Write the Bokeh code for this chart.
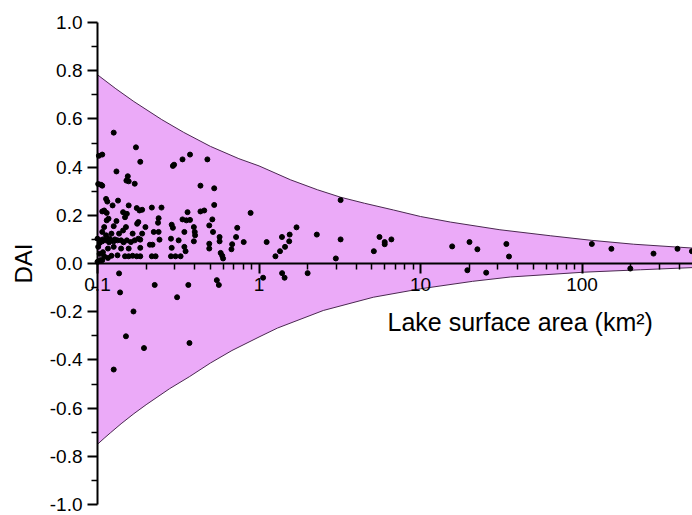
from bokeh.plotting import figure
from bokeh.models import FixedTicker, PrintfTickFormatter, CustomJSTickFormatter, Label, ColumnDataSource
from bokeh.embed import file_html
from bokeh.resources import INLINE

# Lake surface area (km2) and DAI values
area = [
    0.126, 0.173, 0.184, 0.102, 0.107, 0.131, 0.154, 0.151, 0.156, 0.170,
    0.293, 0.298, 0.336, 0.374, 0.479, 0.434, 0.528, 0.101, 0.105, 0.107,
    3.2, 0.887, 0.528, 0.434, 0.458, 0.361, 0.217, 0.249, 0.113, 0.115,
    0.134, 0.107, 0.110, 0.114, 0.156, 0.124, 0.175, 0.182, 0.189, 0.144,
    0.152, 0.117, 0.114, 0.131, 0.148, 0.179, 0.239, 0.336, 0.355, 0.374,
    0.514, 0.237, 0.288, 0.176, 0.110, 0.126, 0.150, 0.198, 0.144, 0.239,
    0.293, 0.395, 0.400, 0.492, 0.733, 1.707, 0.107, 0.113, 0.122, 0.136,
    0.165, 0.189, 0.223, 0.345, 0.519, 0.570, 0.402, 1.387, 1.548, 2.28,
    5.57, 6.0, 6.0, 6.6, 5.14,
    0.100, 0.104, 0.107, 0.113, 0.119, 0.126, 0.133, 0.140, 0.152, 0.161,
    0.179, 0.184, 0.219, 0.242, 0.285, 0.318, 0.395, 0.492, 0.570, 0.682,
    0.721, 0.804, 1.115, 1.538, 3.2, 15.7, 20.1, 34.0, 115.0,
    0.101, 0.116, 0.126, 0.140, 0.156, 0.184, 0.211, 0.288, 0.345, 0.492,
    0.579, 0.675, 1.349, 1.449, 22.5, 152.0, 390.0, 479.0,
    0.104, 0.110, 0.116, 0.122, 0.133, 0.148, 0.156, 0.165, 0.175, 0.184,
    0.217, 0.229, 0.285, 0.304, 0.327, 0.351, 0.592, 0.599, 1.264, 2.99,
    35.3, 277.0, 0.107, 0.100,
    0.103, 0.108, 0.118, 0.128, 0.145, 0.170, 0.103, 0.108,
    0.136, 0.138, 0.226, 0.311, 0.365, 0.548, 0.564, 1.06, 1.39, 1.44,
    2.0, 0.167, 0.150, 0.194, 0.371, 0.126, 19.5, 25.5, 199.0,
]
dai = [
    0.543, 0.482, 0.422, 0.447, 0.452, 0.382, 0.362, 0.344, 0.341, 0.331,
    0.405, 0.410, 0.432, 0.452, 0.432, 0.323, 0.312, 0.330, 0.327, 0.323,
    0.263, 0.210, 0.243, 0.216, 0.220, 0.213, 0.232, 0.232, 0.268, 0.257,
    0.261, 0.216, 0.220, 0.210, 0.241, 0.241, 0.230, 0.220, 0.223, 0.213,
    0.206, 0.186, 0.179, 0.176, 0.192, 0.172, 0.188, 0.183, 0.179, 0.181,
    0.183, 0.169, 0.161, 0.165, 0.151, 0.155, 0.151, 0.151, 0.137, 0.131,
    0.148, 0.151, 0.131, 0.158, 0.148, 0.150, 0.131, 0.117, 0.124, 0.124,
    0.124, 0.124, 0.131, 0.131, 0.131, 0.110, 0.117, 0.110, 0.120, 0.120,
    0.110, 0.089, 0.080, 0.100, 0.051,
    0.103, 0.096, 0.092, 0.096, 0.103, 0.092, 0.096, 0.096, 0.096, 0.089,
    0.103, 0.099, 0.078, 0.099, 0.103, 0.096, 0.092, 0.082, 0.092, 0.080,
    0.110, 0.089, 0.089, 0.092, 0.100, 0.071, 0.089, 0.081, 0.081,
    0.069, 0.062, 0.069, 0.062, 0.062, 0.065, 0.078, 0.065, 0.069, 0.062,
    0.044, 0.059, 0.051, 0.069, 0.059, 0.061, 0.061, 0.051,
    0.014, 0.030, 0.023, 0.032, 0.034, 0.030, 0.030, 0.032, 0.030, 0.030,
    0.030, 0.030, 0.030, 0.030, 0.030, 0.051, 0.032, 0.021, 0.030, 0.021,
    0.029, 0.041, 0.014, 0.007,
    0.085, 0.100, 0.088, 0.100, 0.088, 0.096, 0.040, 0.047,
    -0.041, -0.120, -0.089, -0.140, -0.089, -0.069, -0.089, -0.059, -0.040, -0.059,
    -0.040, -0.199, -0.302, -0.351, -0.330, -0.440, -0.028, -0.038, -0.021,
]

# Envelope curves
env_upper_x = [0.1, 0.13, 0.168, 0.25, 0.342, 0.5, 0.75, 1.0, 1.57, 2.3, 3.2, 4.5,
               6.8, 10, 15.3, 31, 64, 115, 209, 483]
env_upper_y = [0.783, 0.725, 0.672, 0.597, 0.544, 0.486, 0.435, 0.405, 0.347, 0.306,
               0.275, 0.250, 0.222, 0.195, 0.172, 0.140, 0.115, 0.096, 0.080, 0.064]
env_lower_x = [0.1, 0.11, 0.12, 0.14, 0.168, 0.2, 0.28, 0.37, 0.5, 0.68, 1.0, 1.3,
               2.5, 5.1, 10, 21, 36, 103, 230, 483]
env_lower_y = [-0.750, -0.725, -0.703, -0.665, -0.623, -0.586, -0.519, -0.470, -0.413,
               -0.361, -0.305, -0.268, -0.195, -0.140, -0.105, -0.074, -0.056, -0.036,
               -0.026, -0.017]

x_ticks = [0.1, 1, 10, 100]
y_ticks = [-1.0, -0.8, -0.6, -0.4, -0.2, 0.0, 0.2, 0.4, 0.6, 0.8, 1.0]
x_start, x_end = 0.1, 483
y_start, y_end = -1.0, 1.0

FONT = "Liberation Sans"

# the frame fills the whole page; both axes sit at fixed positions inside it
W, H = 692, 515
axis_left_px, axis_top_px, axis_bottom_px = 97, 22, 504
px_per_decade = (W - axis_left_px) / (2.684 + 1)
px_per_unit = (axis_bottom_px - axis_top_px) / (y_end - y_start)
x_lo = x_start / 10 ** (axis_left_px / px_per_decade)
y_hi = y_end + axis_top_px / px_per_unit
y_lo = y_start - (H - axis_bottom_px) / px_per_unit

p = figure(width=W, height=H, x_axis_type="log",
           x_range=(x_lo, x_end), y_range=(y_lo, y_hi),
           output_backend="svg", toolbar_location=None,
           min_border_left=0, min_border_right=0, min_border_top=0, min_border_bottom=0)
p.outline_line_color = None
p.grid.visible = False
p.background_fill_color = "white"
p.border_fill_color = "white"

poly_x = env_upper_x + env_lower_x[::-1]
poly_y = env_upper_y + env_lower_y[::-1]
p.patch(poly_x, poly_y, fill_color="#EBAAF8", line_color=None)
p.line(env_upper_x, env_upper_y, line_color="#4A2850", line_width=1)
p.line(env_lower_x, env_lower_y, line_color="#4A2850", line_width=1)

src = ColumnDataSource(dict(area=area, dai=dai))
p.scatter("area", "dai", source=src, size=5, fill_color="black", line_color="black")

# x axis crossing at y = 0
xa = p.xaxis[0]
xa.fixed_location = 0
xa.bounds = (x_start, x_end)
minor = [m * 10.0 ** k for k in range(-1, 3) for m in range(2, 10)]
xa.ticker = FixedTicker(ticks=x_ticks, minor_ticks=minor)
xa.formatter = CustomJSTickFormatter(code="return tick < 1 ? tick.toFixed(1) : tick.toFixed(0);")
xa.axis_line_width = 2
xa.major_tick_line_width = 2
xa.minor_tick_line_width = 1.5
xa.major_tick_in = 0
xa.major_tick_out = 10
xa.minor_tick_in = 0
xa.minor_tick_out = 6
xa.major_label_text_font = FONT
xa.major_label_text_font_size = "19px"
xa.major_label_text_color = "black"
xa.major_label_standoff = 4

# y axis at x = 0.1
ya = p.yaxis[0]
ya.fixed_location = x_start
ya.bounds = (y_start, y_end)
ya.ticker = FixedTicker(ticks=y_ticks, minor_ticks=[-0.9, -0.7, -0.5, -0.3, -0.1, 0.1, 0.3, 0.5, 0.7, 0.9])
ya.formatter = PrintfTickFormatter(format="%.1f")
ya.axis_line_width = 2
ya.major_tick_line_width = 2
ya.minor_tick_line_width = 1.5
ya.major_tick_in = 0
ya.major_tick_out = 10
ya.minor_tick_in = 0
ya.minor_tick_out = 6
ya.major_label_text_font = FONT
ya.major_label_text_font_size = "19px"
ya.major_label_text_color = "black"
ya.major_label_standoff = 5
ya.axis_label = "DAI"
ya.axis_label_text_font = FONT
ya.axis_label_text_font_size = "24px"
ya.axis_label_text_font_style = "normal"
ya.axis_label_text_color = "black"
ya.axis_label_standoff = 10

p.add_layout(Label(x=6.25, y=-0.184, text="Lake surface area (km\u00b2)", text_font=FONT,
                   text_font_size="25px", text_baseline="top", text_align="left",
                   text_color="black"))

open("out.html", "w").write(file_html(p, INLINE))
